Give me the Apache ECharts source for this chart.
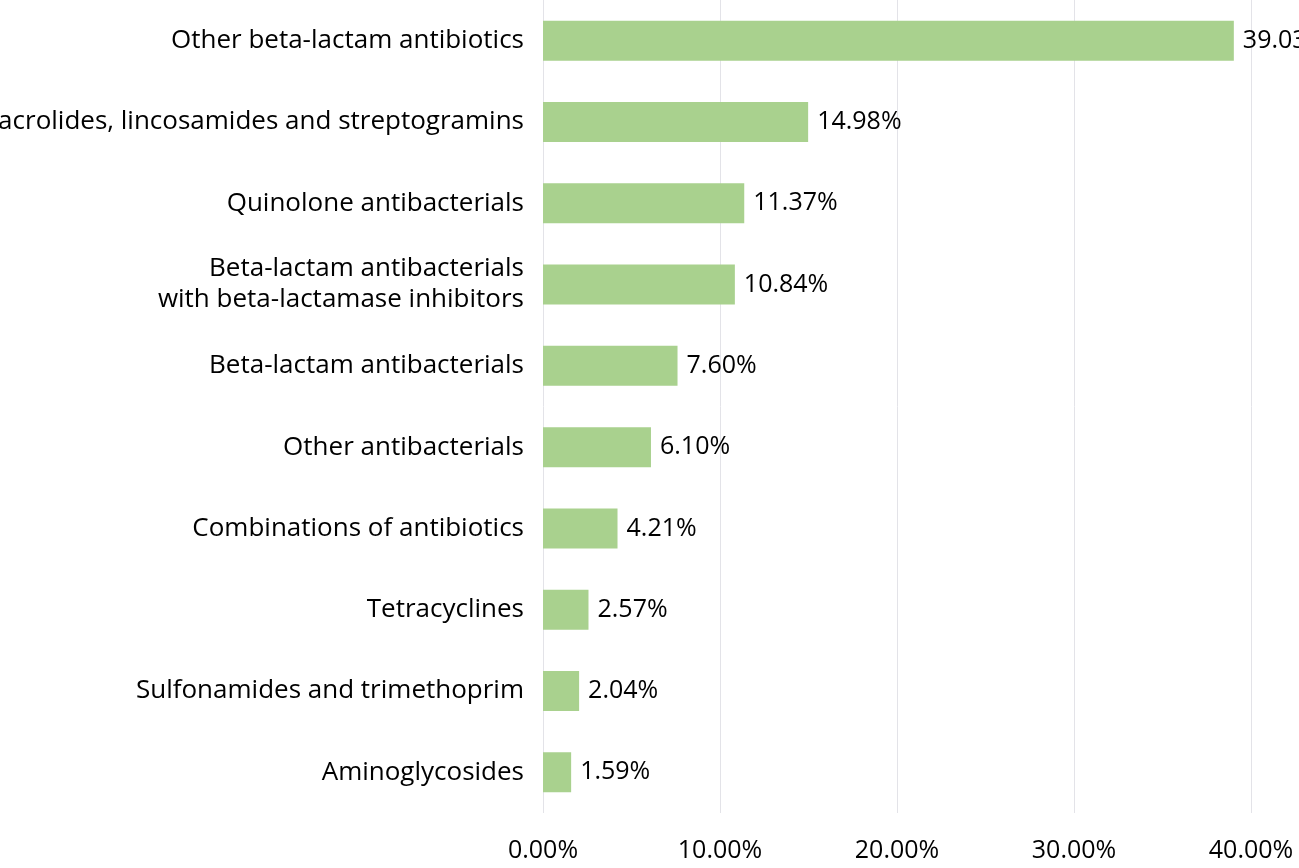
<!DOCTYPE html>
<html><head><meta charset="utf-8">
<script src="https://cdn.jsdelivr.net/npm/echarts@6/dist/echarts.min.js"></script>
<style>html,body{margin:0;padding:0;background:#fff}#c{width:1299px;height:868px}</style>
</head><body><div id="c"></div>
<script>
const categories = [
  "Other beta-lactam antibiotics",
  "Macrolides, lincosamides and streptogramins",
  "Quinolone antibacterials",
  "Beta-lactam antibacterials\nwith beta-lactamase inhibitors",
  "Beta-lactam antibacterials",
  "Other antibacterials",
  "Combinations of antibiotics",
  "Tetracyclines",
  "Sulfonamides and trimethoprim",
  "Aminoglycosides"
];
const values = [39.03, 14.98, 11.37, 10.84, 7.60, 6.10, 4.21, 2.57, 2.04, 1.59];
const xTicks = { min: 0, max: 40, interval: 10 };

const FONT = "'Open Sans', 'Noto Sans', sans-serif";
const chart = echarts.init(document.getElementById('c'));
chart.setOption({
  animation: false,
  grid: { left: 543, right: 48, top: 0, bottom: 55, containLabel: false, outerBoundsMode: 'none' },
  xAxis: {
    type: 'value', min: xTicks.min, max: xTicks.max, interval: xTicks.interval,
    axisLine: { show: false }, axisTick: { show: false },
    splitLine: { show: true, lineStyle: { color: '#e3e3e8', width: 1 } },
    axisLabel: { formatter: v => v.toFixed(2) + '%', color: '#000', fontSize: 25, fontFamily: FONT, margin: 25 }
  },
  yAxis: {
    type: 'category', data: categories, inverse: true,
    axisLine: { show: false }, axisTick: { show: false },
    axisLabel: { color: '#000', fontSize: 26, fontFamily: FONT, margin: 19, lineHeight: 31, align: 'right' }
  },
  series: [{
    type: 'bar', data: values, barWidth: 40,
    itemStyle: { color: '#a9d18e' },
    label: { show: true, position: 'right', distance: 9, color: '#000', fontSize: 25, fontFamily: FONT,
      formatter: p => p.value.toFixed(2) + '%' }
  }]
});
</script></body></html>
